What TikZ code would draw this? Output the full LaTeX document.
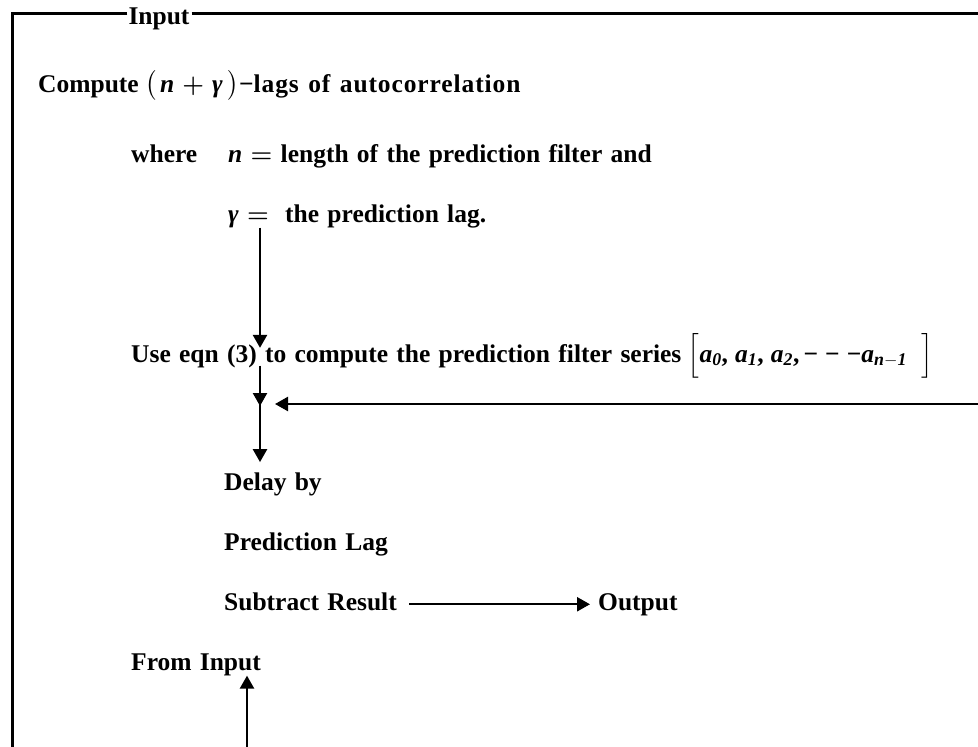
\documentclass[tikz,border=0pt]{standalone}
\usepackage{amsmath}
\usepackage{fontspec}
\setmainfont{Liberation Serif}[WordSpace=1.3]
\usetikzlibrary{arrows.meta, positioning}

\tikzset{
  lbl/.style={anchor=base west, inner sep=0pt, font=\fontsize{25.5}{30}\selectfont\bfseries},
  flow/.style={line width=2.4pt, -{Triangle[length=13pt, width=14pt]}},
  frame/.style={line width=3pt}
}

\begin{document}
\begin{tikzpicture}[x=1pt, y=-1pt]
  \useasboundingbox (0,0) rectangle (978,747);
  % outer frame with the Input label
  \node[lbl, anchor=base] (input) at (159,24) {Input};
  \coordinate (tl) at (12,13);
  \coordinate (bl) at (12,747);
  \coordinate (tr) at (978,13);
  \draw[frame] ([xshift=-1pt]input.west |- tl) -- (tl) -- (bl);
  \draw[frame] ([xshift=2pt]input.east |- tl) -- (tr);

  % text lines
  \node[lbl] (compute) at (38,92)
       {Compute\hspace{7pt}$\bigl($\hspace{3pt}\textit{n}\hspace{8pt}$\boldsymbol{+}$\hspace{8pt}\textit{γ}\hspace{5pt}$\bigr)$−{\addfontfeatures{LetterSpace=3.5}lags of autocorrelation}};
  \node[lbl] (where) at (131,162) {where};
  \node[lbl] (nlen) at (228,162) {\textit{n} $\boldsymbol{=}$ length of the prediction filter and};
  \node[lbl] (gam) at (228,222) {\textit{γ} $\boldsymbol{=}$};
  \node[lbl] (lag) at (285,222) {the prediction lag.};
  \node[lbl] (use) at (131,362) {Use eqn (3) to compute the prediction filter series};
  \node[lbl, right=6pt of use.base east, anchor=base west] (series)
       {$\Bigl[$\textit{a}$_{\textit{0}}$,\;\textit{a}$_{\textit{1}}$,\;\textit{a}$_{\textit{2}}$,\,−\;−\;−\textit{a}$_{\textit{n}-\textit{1}}$\;\;$\Bigr]$};
  \node[lbl] (delay) at (224,490) {Delay by};
  \node[lbl] (plag) at (224,550) {Prediction Lag};
  \node[lbl] (sub) at (224,610) {Subtract Result};
  \node[lbl] (out) at (598,610) {Output};
  \node[lbl] (from) at (131,670) {From Input};

  % connectors
  \coordinate (j) at (260,404);
  \coordinate (feed) at (978,404);
  \coordinate (src) at (247,747);
  \draw[flow] (gam.south -| j) -- ([yshift=-4pt]use.north -| j);
  \draw[flow] ([yshift=2pt]use.south -| j) -- ([yshift=-2pt]j);
  \draw[flow] (feed) -- ([xshift=15pt]j);
  \draw[flow, shorten >=10pt] ([yshift=16pt]j) -- (delay.north -| j);
  \draw[flow, shorten <=12pt, shorten >=8pt] (sub.east |- out.center) -- (out.west |- out.center);
  \draw[flow] (src) -- (from.south -| src);
\end{tikzpicture}
\end{document}
